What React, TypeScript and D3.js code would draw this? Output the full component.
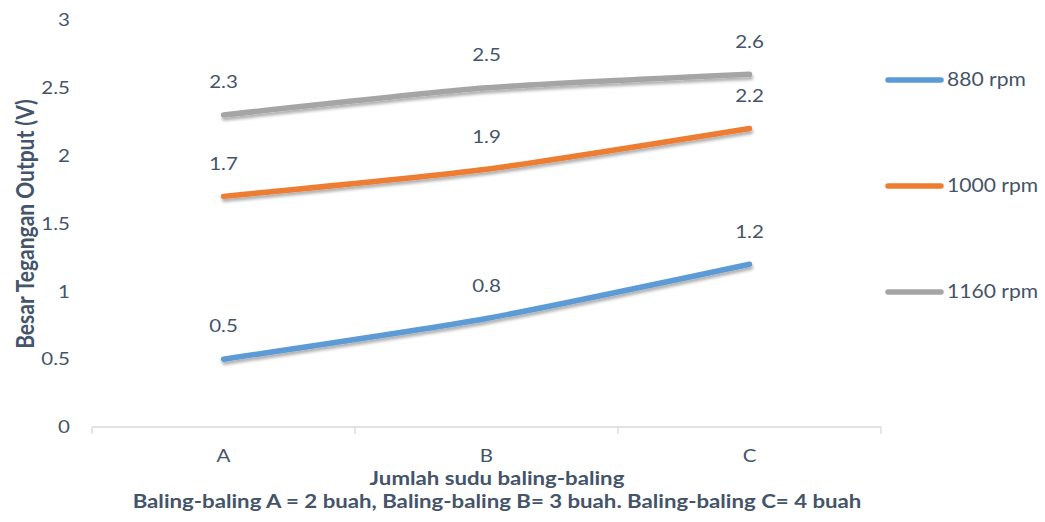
import React from "react";
import * as d3 from "d3";

const categories = ["A", "B", "C"];
const seriesNames = ["880 rpm", "1000 rpm", "1160 rpm"];
const rpm880 = [0.5, 0.8, 1.2];
const rpm1000 = [1.7, 1.9, 2.2];
const rpm1160 = [2.3, 2.5, 2.6];
const yTicks = [0, 0.5, 1, 1.5, 2, 2.5, 3];
const colors = ["#5b9bd5", "#ed7d31", "#a5a5a5"];

const W = 1045;
const H = 522;
const TEXT = "#44546a";
const FONT = "Lato, 'Open Sans', sans-serif";
const SX = 1.14; // horizontal widening of the text glyphs

type TProps = {
  x: number;
  y: number;
  size: number;
  anchor?: "start" | "middle" | "end";
  bold?: boolean;
  children: React.ReactNode;
};

function Label({ x, y, size, anchor = "start", bold = false, children }: TProps) {
  return (
    <text
      transform={`translate(${x},${y}) scale(${SX},1)`}
      dy="0.35em"
      textAnchor={anchor}
      fontSize={size}
      fontWeight={bold ? "bold" : "normal"}
      fill={TEXT}
    >
      {children}
    </text>
  );
}

export default function App() {
  const x = d3.scaleBand<string>().domain(categories).range([92, 881]).padding(0);
  const y = d3.scaleLinear().domain([0, 3]).range([427, 20]);
  const cx = (c: string) => (x(c) as number) + x.bandwidth() / 2;

  const series = [rpm880, rpm1000, rpm1160];
  const line = d3
    .line<number>()
    .x((_, i) => cx(categories[i]))
    .y((v) => y(v))
    .curve(d3.curveCardinal.tension(0.4));

  const tickXs = [...categories.map((c) => x(c) as number), x.range()[1]];

  return (
    <svg width={W} height={H} style={{ position: "absolute", left: 0, top: 0 }} fontFamily={FONT}>
      <defs>
        <filter id="lineShadow" x="-10%" y="-50%" width="120%" height="200%">
          <feDropShadow dx="1" dy="3" stdDeviation="1.6" floodColor="#000" floodOpacity="0.3" />
        </filter>
      </defs>
      <rect width={W} height={H} fill="#fff" />

      {/* y tick labels */}
      {yTicks.map((t) => (
        <Label key={t} x={70} y={y(t)} size={18} anchor="end">
          {t}
        </Label>
      ))}

      {/* x axis */}
      <line x1={x.range()[0]} x2={x.range()[1]} y1={y(0)} y2={y(0)} stroke="#d9d9d9" strokeWidth={1.3} />
      {tickXs.map((tx, i) => (
        <line key={i} x1={tx} x2={tx} y1={y(0)} y2={y(0) + 7} stroke="#d9d9d9" strokeWidth={1.3} />
      ))}
      {categories.map((c) => (
        <Label key={c} x={cx(c)} y={456} size={18} anchor="middle">
          {c}
        </Label>
      ))}

      {/* series lines */}
      {series.map((s, i) => (
        <path
          key={i}
          d={line(s) as string}
          fill="none"
          stroke={colors[i]}
          strokeWidth={5.5}
          strokeLinecap="round"
          strokeLinejoin="round"
          filter="url(#lineShadow)"
        />
      ))}

      {/* data labels */}
      {series.map((s, i) =>
        s.map((v, j) => (
          <Label key={`${i}-${j}`} x={cx(categories[j])} y={y(v) - 33} size={18} anchor="middle">
            {v}
          </Label>
        ))
      )}

      {/* axis titles */}
      <text
        transform={`translate(26,224) rotate(-90) scale(1,${SX})`}
        textAnchor="middle"
        dy="0.35em"
        fontSize={21}
        fontWeight="bold"
        fill={TEXT}
      >
        Besar Tegangan Output (V)
      </text>
      <Label x={497} y={478} size={19.5} anchor="middle" bold>
        Jumlah sudu baling-baling
      </Label>
      <Label x={497} y={501} size={19.5} anchor="middle" bold>
        Baling-baling A = 2 buah, Baling-baling B= 3 buah. Baling-baling C= 4 buah
      </Label>

      {/* legend */}
      {seriesNames.map((n, i) => {
        const ly = 80 + i * 106;
        return (
          <g key={n}>
            <line x1={888} x2={941} y1={ly} y2={ly} stroke={colors[i]} strokeWidth={5.5} strokeLinecap="round" />
            <Label x={947} y={ly} size={18.5}>
              {n}
            </Label>
          </g>
        );
      })}
    </svg>
  );
}
